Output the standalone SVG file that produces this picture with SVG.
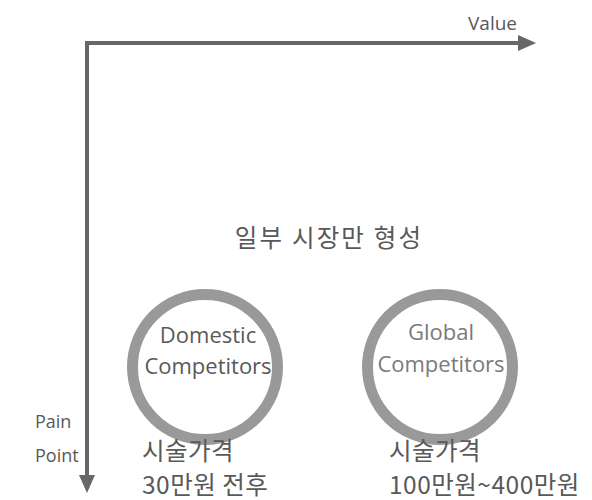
<svg xmlns="http://www.w3.org/2000/svg" width="592" height="500" viewBox="0 0 592 500">
<style>
.ax{stroke:#676767;stroke-width:4;fill:none}
.c{fill:#fff;stroke:#999;stroke-width:11}
.t{font-family:"Open Sans","Noto Sans CJK KR",sans-serif;fill:#595959}
.k{font-family:"Noto Sans CJK KR","Open Sans",sans-serif;fill:#595959;font-size:24.5px}
.g{fill:#7a7a7a}
</style>
<defs>
<marker id="ah" markerWidth="4.5" markerHeight="4" refX="0.5" refY="2" orient="auto" markerUnits="strokeWidth">
<path d="M0,0 L4.5,2 L0,4 Z" fill="#676767"/>
</marker>
</defs>
<g id="connectors">
<path class="ax" d="M87,45 L87,43 L520,43" marker-end="url(#ah)"/>
<path class="ax" d="M87,41 L87,477" marker-end="url(#ah)"/>
</g>
<g id="value"><text class="t" x="468" y="30" font-size="19">Value</text></g>
<g id="pain"><text class="t" x="35" y="428" font-size="18">Pain</text><text class="t" x="35" y="462" font-size="18">Point</text></g>
<g id="market"><text class="k" x="329" y="247" font-size="25" letter-spacing="2.2" text-anchor="middle">일부 시장만 형성</text></g>
<g id="domestic">
<circle class="c" cx="205" cy="367" r="72.5"/>
<text class="t" x="208" y="343" font-size="22" text-anchor="middle">Domestic</text>
<text class="t" x="208" y="374" font-size="22" text-anchor="middle">Competitors</text>
</g>
<g id="global">
<circle class="c" cx="440" cy="367" r="72.5"/>
<text class="t g" x="441" y="340" font-size="22" text-anchor="middle">Global</text>
<text class="t g" x="441" y="372" font-size="22" text-anchor="middle">Competitors</text>
</g>
<g id="price1"><text class="k" x="142" y="460" letter-spacing="0.5">시술가격</text><text class="k" x="142" y="494" letter-spacing="0.5">30만원 전후</text></g>
<g id="price2"><text class="k" x="389" y="460" letter-spacing="0.5">시술가격</text><text class="k" x="389" y="494" letter-spacing="0.5">100만원~400만원</text></g>
</svg>
